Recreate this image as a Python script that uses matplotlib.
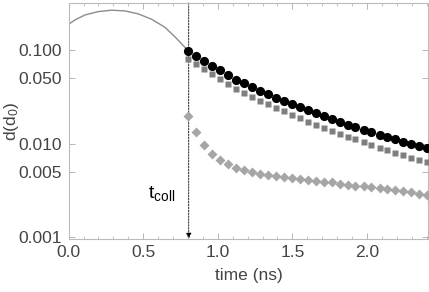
import matplotlib
matplotlib.use("Agg")
import matplotlib.pyplot as plt
from matplotlib import font_manager
from matplotlib.ticker import FixedLocator, MultipleLocator, FixedFormatter

# =====================
# DATA
# =====================

# continuous curve before the collision
curve_t = [0.0, 0.043, 0.110, 0.199, 0.288, 0.377, 0.467, 0.556, 0.645, 0.712, 0.779, 0.800]
curve_v = [0.188, 0.2094, 0.2367, 0.2568, 0.2659, 0.2613, 0.2427, 0.2130, 0.1749, 0.1387, 0.1069, 0.0976]

# sampled points after t_coll
time_pts = [0.800, 0.853, 0.907, 0.960, 1.014, 1.067, 1.121, 1.174, 1.228, 1.281,
            1.335, 1.388, 1.442, 1.495, 1.549, 1.602, 1.656, 1.709, 1.763, 1.816,
            1.870, 1.923, 1.977, 2.030, 2.084, 2.137, 2.191, 2.244, 2.298, 2.351, 2.405]

circles = [0.0976, 0.0863, 0.0763, 0.0680, 0.0611, 0.0540, 0.0481, 0.0440, 0.0399, 0.0367,
           0.0338, 0.0310, 0.0286, 0.0265, 0.0245, 0.0226, 0.0210, 0.0195, 0.0182, 0.0170,
           0.0159, 0.0150, 0.0141, 0.0133, 0.0125, 0.0118, 0.0111, 0.0105, 0.0099, 0.0094, 0.0090]

squares = [0.0805, 0.0705, 0.0620, 0.0550, 0.0492, 0.0433, 0.0384, 0.0349, 0.0315, 0.0288,
           0.0265, 0.0242, 0.0222, 0.0204, 0.0187, 0.0172, 0.0159, 0.0147, 0.0137, 0.0127,
           0.0119, 0.0111, 0.0104, 0.0097, 0.0091, 0.0086, 0.0080, 0.0076, 0.0071, 0.0067, 0.0063]

diamonds = [0.0198, 0.01318, 0.00964, 0.00776, 0.00666, 0.00604, 0.00554, 0.00521, 0.00496, 0.00480,
            0.00466, 0.00452, 0.00441, 0.00431, 0.00420, 0.00410, 0.00400, 0.00390, 0.00385, 0.00375,
            0.00366, 0.00357, 0.00351, 0.00343, 0.00334, 0.00326, 0.00318, 0.00310, 0.00303, 0.00293, 0.00286]

t_coll = 0.805

y_ticks = [0.001, 0.005, 0.010, 0.050, 0.100]
y_tick_labels = ["0.001", "0.005", "0.010", "0.050", "0.100"]
x_ticks = [0.0, 0.5, 1.0, 1.5, 2.0]
x_tick_labels = ["0.0", "0.5", "1.0", "1.5", "2.0"]

# =====================
# STYLE
# =====================

names = {f.name for f in font_manager.fontManager.ttflist}
fam = "Liberation Sans Narrow" if "Liberation Sans Narrow" in names else "Liberation Sans"
plt.rcParams["font.family"] = [fam, "DejaVu Sans"]
plt.rcParams["mathtext.fontset"] = "custom"
plt.rcParams["mathtext.rm"] = fam
plt.rcParams["mathtext.default"] = "regular"

txt = "#444444"
frame = "#bbbbbb"
fs = 12.5

# =====================
# PLOT
# =====================

fig = plt.figure(figsize=(4.29, 2.92), dpi=100)
ax = fig.add_axes([0.160, 0.1815, 0.838, 0.8085])

ax.plot(curve_t, curve_v, color="#8c8c8c", lw=1.0, zorder=2)

ax.plot(time_pts, diamonds, "D", color="#a6a6a6", ms=5.0, mec="none", zorder=3)
ax.plot(time_pts, squares, "s", color="#7f7f7f", ms=4.6, mec="none", zorder=4)
ax.plot(time_pts, circles, "o", color="black", ms=6.6, mec="none", zorder=5)

ax.set_yscale("log")
ax.set_xlim(0, 2.41)
ax.set_ylim(0.00096, 0.318)

ax.annotate(
    "",
    xy=(t_coll, 0.00096),
    xytext=(t_coll, 0.318),
    arrowprops=dict(arrowstyle="-|>,head_length=0.35,head_width=0.15",
                    color="black", lw=0.6, linestyle=(0, (2, 1.5)),
                    shrinkA=0, shrinkB=0),
    zorder=1,
)

ax.text(0.62, 0.00262, "t$_{coll}$", ha="center", va="baseline",
        fontsize=14, color="black")

ax.yaxis.set_major_locator(FixedLocator(y_ticks))
ax.yaxis.set_major_formatter(FixedFormatter(y_tick_labels))
ax.yaxis.set_minor_locator(FixedLocator([]))
ax.xaxis.set_major_locator(FixedLocator(x_ticks))
ax.xaxis.set_major_formatter(FixedFormatter(x_tick_labels))
ax.xaxis.set_minor_locator(MultipleLocator(0.1))

ax.tick_params(which="both", direction="in", top=True, right=True,
               color="#aaaaaa", labelcolor=txt, labelsize=fs)
ax.tick_params(which="major", length=4, width=0.6)
ax.tick_params(which="minor", length=2.5, width=0.5)
ax.tick_params(axis="x", pad=4)
ax.tick_params(axis="y", pad=5)

for s in ax.spines.values():
    s.set_color(frame)
    s.set_linewidth(0.8)

ax.set_xlabel("time (ns)", fontsize=fs, color=txt, labelpad=6)
ax.set_ylabel("d(d$_0$)", fontsize=fs, color=txt, va="center")
ax.yaxis.set_label_coords(-0.158, 0.5)

plt.savefig("out.png", dpi=100)
